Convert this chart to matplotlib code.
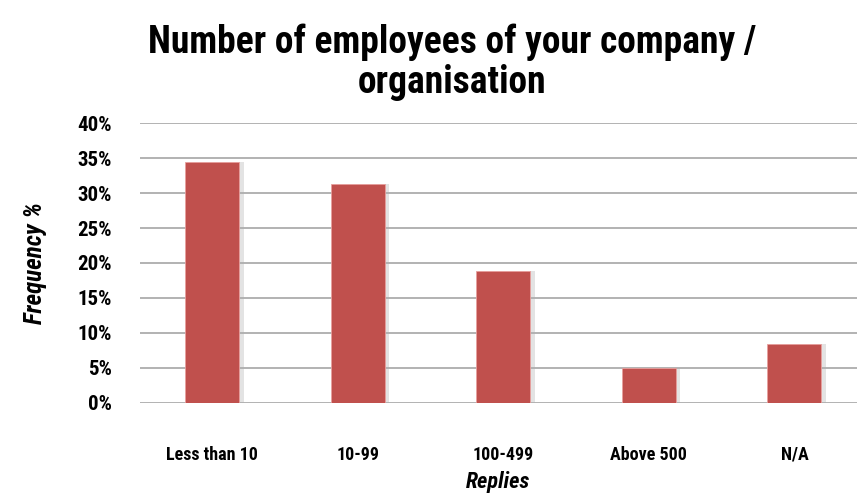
import matplotlib
matplotlib.use("Agg")
import matplotlib.pyplot as plt
from matplotlib import font_manager
from matplotlib.ticker import FuncFormatter

categories = ["Less than 10", "10-99", "100-499", "Above 500", "N/A"]
frequency = [34.5, 31.3, 18.8, 5.0, 8.4]
y_ticks = [0, 5, 10, 15, 20, 25, 30, 35, 40]

# pick a narrow bold face if one is installed
names = {f.name for f in font_manager.fontManager.ttflist}
family = "DejaVu Sans"
for cand in ["Liberation Sans Narrow", "DejaVu Sans Condensed", "Roboto Condensed", "Open Sans"]:
    if cand in names:
        family = cand
        break
plt.rcParams["font.family"] = [family, "DejaVu Sans"]

fig = plt.figure(figsize=(8.58, 4.95), dpi=100)
ax = fig.add_axes([139.5 / 858, (495 - 402.7) / 495, (857 - 139.5) / 858, (402.7 - 123.3) / 495])

x = list(range(len(categories)))
# soft shadow behind each bar
ax.bar([i + 0.02 for i in x], frequency, width=0.39, color="#b0b0b0", alpha=0.35, zorder=2)
ax.bar(x, frequency, width=0.37, color="#c0504d", edgecolor="#e8a09e", linewidth=0.6, zorder=3)

ax.set_ylim(0, 40)
ax.set_xlim(-0.5, 4.43)
ax.set_yticks(y_ticks)
ax.yaxis.set_major_formatter(FuncFormatter(lambda v, p: "%d%%" % v))
ax.set_xticks(x)
ax.set_xticklabels(categories)
ax.grid(axis="y", color="#a6a6a6", linewidth=1.2, zorder=0)
ax.set_axisbelow(True)
for s in ["left", "right", "top", "bottom"]:
    ax.spines[s].set_visible(False)
ax.tick_params(axis="x", length=0, labelsize=13, pad=31)
ax.tick_params(axis="y", length=0, labelsize=15, pad=20)
for lab in ax.get_xticklabels() + ax.get_yticklabels():
    lab.set_fontweight("bold")

ax.set_xlabel("Replies", fontsize=16, fontweight="bold", fontstyle="italic", labelpad=5)
ax.set_ylabel("Frequency %", fontsize=18, fontweight="bold", fontstyle="italic", labelpad=22)

fig.text(0.527, 0.875, "Number of employees of your company /\norganisation",
         ha="center", va="center", fontsize=27, fontweight="bold", linespacing=1.1)

fig.savefig("out.png", dpi=100)
